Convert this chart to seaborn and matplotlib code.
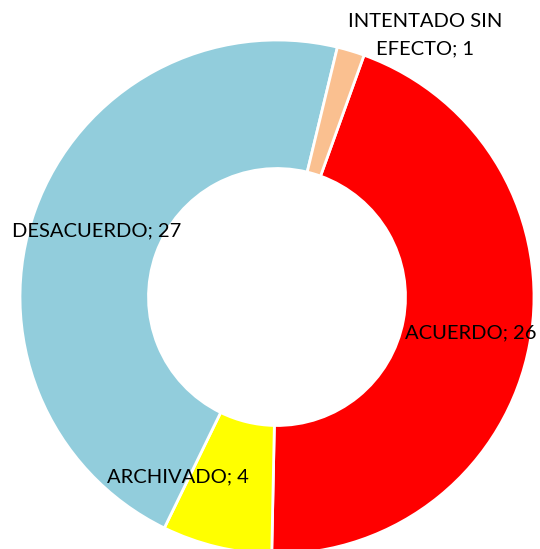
import numpy as np
import matplotlib
matplotlib.use('Agg')
import matplotlib.pyplot as plt
import seaborn as sns

# data
categorias = ['ACUERDO', 'ARCHIVADO', 'DESACUERDO', 'INTENTADO SIN\nEFECTO']
valores = [26, 4, 27, 1]
colores = ['#FF0000', '#FFFF00', '#92CDDC', '#FAC090']

sns.set_theme(style='white')
plt.rcParams['font.family'] = ['Lato', 'DejaVu Sans']

fig = plt.figure(figsize=(5.40, 5.49), dpi=100)
ax = fig.add_axes([0, 0, 1, 1])

ax.pie(valores, colors=colores, startangle=70.2, counterclock=False,
       radius=1.0, wedgeprops=dict(width=0.50, edgecolor='white', linewidth=2.0))

# label placement (polar: angle clockwise from top in deg, radius)
label_pos = [(100.5, 0.768), (208.8, 0.80), (290.2, 0.746), (29.5, 1.171)]
for cat, val, (ang, r) in zip(categorias, valores, label_pos):
    t = np.deg2rad(ang)
    ax.text(r * np.sin(t), r * np.cos(t), f'{cat}; {val}', ha='center', va='center',
            fontsize=14.5, color='black', linespacing=1.7)

# centre at (277, 297) px, outer radius 257 px
ax.set_xlim(-277 / 257, (540 - 277) / 257)
ax.set_ylim(-(549 - 297) / 257, 297 / 257)
ax.set_aspect('auto')
ax.axis('off')

fig.savefig('out.png', dpi=100)
